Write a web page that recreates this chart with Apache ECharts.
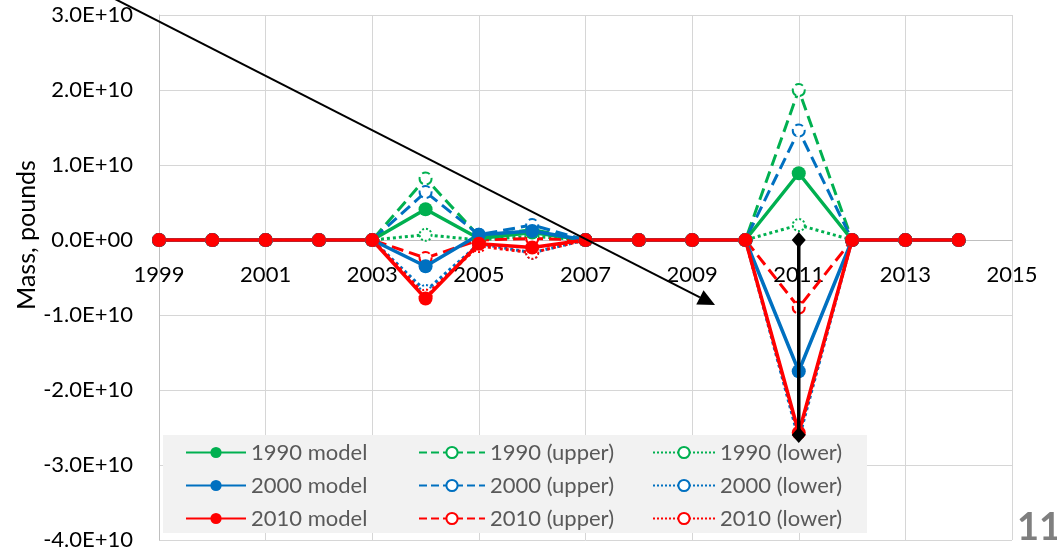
<!DOCTYPE html>
<html>
<head>
<meta charset="utf-8">
<script src="https://cdn.jsdelivr.net/npm/echarts@6/dist/echarts.min.js"></script>
<style>html,body{margin:0;padding:0;background:#fff}#c{width:1057px;height:551px}</style>
</head>
<body>
<div id="c"></div>
<script>
// ---- data ----
const years = [1999,2000,2001,2002,2003,2004,2005,2006,2007,2008,2009,2010,2011,2012,2013,2014];
const m1990 = [0,0,0,0,0, 4.1e9, 0.2e9, 1.0e9,0,0,0,0, 8.9e9,0,0,0];
const u1990 = [0,0,0,0,0, 8.2e9, 0.5e9, 1.4e9,0,0,0,0, 2.0e10,0,0,0];
const l1990 = [0,0,0,0,0, 0.7e9, 0.0, 0.5e9,0,0,0,0, 2.0e9,0,0,0];
const m2000 = [0,0,0,0,0,-3.5e9, 0.7e9, 1.2e9,0,0,0,0,-1.75e10,0,0,0];
const u2000 = [0,0,0,0,0, 6.4e9, 0.7e9, 2.0e9,0,0,0,0, 1.46e10,0,0,0];
const l2000 = [0,0,0,0,0,-6.8e9,-0.5e9,-1.7e9,0,0,0,0,-2.66e10,0,0,0];
const m2010 = [0,0,0,0,0,-7.8e9,-0.5e9,-1.0e9,0,0,0,0,-2.57e10,0,0,0];
const u2010 = [0,0,0,0,0,-2.4e9, 0.0, 0.2e9,0,0,0,0,-9.0e9,0,0,0];
const l2010 = [0,0,0,0,0,-7.4e9,-0.8e9,-1.7e9,0,0,0,0,-2.6e10,0,0,0];
const names = ['1990 model','2000 model','2010 model','1990 (upper)','2000 (upper)','2010 (upper)','1990 (lower)','2000 (lower)','2010 (lower)'];
const yTicks = {min:-4e10, max:3e10, interval:1e10};
const xTicks = {min:1999, max:2015, interval:2};
// annotations (data coordinates)
const barX = [2011, 2011];
const barY = [0, -2.6e10];
const arrowFrom = [1997.99, 3.28e10];
const arrowTo = [2009.43, -0.867e10];
const yAxisTitle = 'Mass, pounds';
const pageNumber = '11';

const GREEN = '#00B050', BLUE = '#0070C0', RED = '#FF0000';
const FONT = 'Lato, "Open Sans", sans-serif';
const GRID = {left:159, right:45, top:15, bottom:11};
const H = 551;

function pair(vals){ return years.map((y,i)=>[y, vals[i]]); }
function fmt(v){
  if (v === 0) return '0.0E+00';
  const e = Math.floor(Math.log10(Math.abs(v)) + 1e-9);
  const m = v / Math.pow(10, e);
  return m.toFixed(1) + 'E+' + (e < 10 ? '0' + e : e);
}
function mk(name, vals, color, kind, z){
  const s = {
    name, type:'line', data: pair(vals), z,
    animation:false,
    lineStyle:{color, width: kind==='model'?3.5:3, type: kind==='model'?'solid':(kind==='upper'?'dashed':'dotted')},
    itemStyle:{color},
    symbol: kind==='model'?'circle':'emptyCircle',
    symbolSize: kind==='model'?14:12,
    showSymbol:true
  };
  if (kind !== 'model') {
    s.itemStyle = {color, borderColor: color, borderWidth:2, borderType: kind==='upper'?'dashed':'dotted'};
  }
  return s;
}

const chart = echarts.init(document.getElementById('c'), null, {renderer:'canvas'});
const legendText = {color:'#595959', fontSize:22, fontFamily:FONT, lineHeight:27};
const plotH = H - GRID.top - GRID.bottom;
const zeroOffset = -plotH * (0 - yTicks.min) / (yTicks.max - yTicks.min);
const lg = (data, left, w) => ({data, left, top:439, padding:0, orient:'vertical', itemWidth:w, itemHeight:14, itemGap:6,
  textStyle:legendText, selectedMode:false, z:5});
const option = {
  animation:false,
  textStyle:{fontFamily:FONT},
  grid:{left:GRID.left, right:GRID.right, top:GRID.top, bottom:GRID.bottom, containLabel:false, outerBoundsMode:'none'},
  xAxis:{
    type:'value', min:xTicks.min, max:xTicks.max, interval:xTicks.interval,
    position:'bottom', offset: zeroOffset,
    axisLine:{onZero:false, lineStyle:{color:'#bfbfbf'}},
    axisTick:{show:false},
    axisLabel:{color:'#000', fontSize:22, fontFamily:FONT, margin:24, formatter:v=>String(v)},
    splitLine:{show:true, lineStyle:{color:'#d6d6d6', width:1}}
  },
  yAxis:{
    type:'value', min:yTicks.min, max:yTicks.max, interval:yTicks.interval,
    axisLine:{show:true, lineStyle:{color:'#bfbfbf'}},
    axisTick:{show:false},
    axisLabel:{color:'#000', fontSize:22, fontFamily:FONT, margin:26, formatter:fmt},
    splitLine:{show:true, lineStyle:{color:'#d6d6d6', width:1}}
  },
  legend:[
    lg(names.slice(0,3), 185, 60),
    lg(names.slice(3,6), 418, 66),
    lg(names.slice(6,9), 652, 62)
  ],
  series:[
    mk(names[6], l1990, GREEN, 'lower', 2),
    mk(names[7], l2000, BLUE, 'lower', 2),
    mk(names[8], l2010, RED, 'lower', 2),
    mk(names[3], u1990, GREEN, 'upper', 2),
    mk(names[4], u2000, BLUE, 'upper', 2),
    mk(names[5], u2010, RED, 'upper', 2),
    mk(names[0], m1990, GREEN, 'model', 3),
    mk(names[1], m2000, BLUE, 'model', 3),
    mk(names[2], m2010, RED, 'model', 3),
    {name:'bar', type:'line', data: barX.map((x,i)=>[x, barY[i]]), z:4, animation:false,
     symbol:'diamond', symbolSize:[14,16], lineStyle:{color:'#000', width:3.5}, itemStyle:{color:'#000'}}
  ]
};
chart.setOption(option);

const p0 = chart.convertToPixel({xAxisIndex:0, yAxisIndex:0}, arrowFrom);
const p1 = chart.convertToPixel({xAxisIndex:0, yAxisIndex:0}, arrowTo);
const ang = Math.atan2(p1[1]-p0[1], p1[0]-p0[0]);
const L = 17, W = 8;
const bx = p1[0] - L*Math.cos(ang), by = p1[1] - L*Math.sin(ang);
const nx = -Math.sin(ang), ny = Math.cos(ang);
chart.setOption({
  graphic:[
    {type:'rect', z:3, shape:{x:163, y:435, width:704, height:98}, style:{fill:'#f2f2f2'}},
    {type:'line', z:10, shape:{x1:p0[0], y1:p0[1], x2:bx, y2:by}, style:{stroke:'#000', lineWidth:2}},
    {type:'polygon', z:10, shape:{points:[[p1[0],p1[1]],[bx+nx*W, by+ny*W],[bx-nx*W, by-ny*W]]}, style:{fill:'#000'}},
    {type:'text', z:10, x:27, y:235, rotation:Math.PI/2,
     style:{text:yAxisTitle, fill:'#000', font:'25px ' + FONT, align:'center', verticalAlign:'middle'}},
    {type:'text', z:10, x:1017, y:547,
     style:{text:pageNumber, fill:'#7f7f7f', font:'bold 38px ' + FONT, align:'left', verticalAlign:'bottom'}}
  ]
});
</script>
</body>
</html>
